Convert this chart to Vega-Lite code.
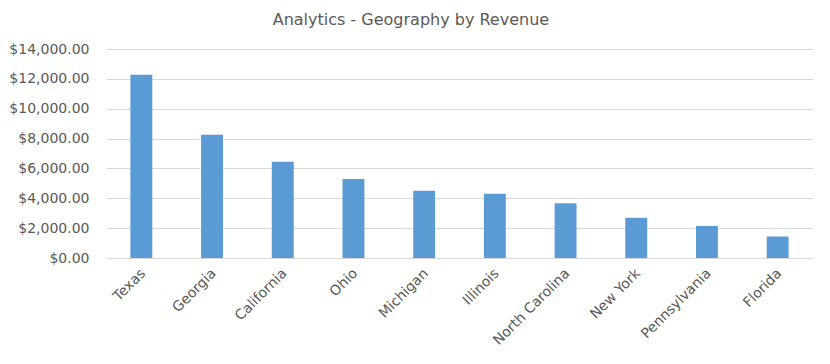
{
  "$schema": "https://vega.github.io/schema/vega-lite/v6.json",
  "autosize": {"type": "none"},
  "width": 707,
  "height": 209,
  "padding": {"left": 106, "top": 49, "right": 17, "bottom": 106},
  "background": "white",
  "title": {
    "text": "Analytics - Geography by Revenue",
    "font": "DejaVu Sans",
    "fontSize": 16,
    "fontWeight": "normal",
    "color": "#595959",
    "anchor": "middle",
    "frame": "bounds",
    "offset": 14
  },
  "data": {
    "values": [
      {"state": "Texas", "revenue": 12280},
      {"state": "Georgia", "revenue": 8250},
      {"state": "California", "revenue": 6440},
      {"state": "Ohio", "revenue": 5300},
      {"state": "Michigan", "revenue": 4510},
      {"state": "Illinois", "revenue": 4310},
      {"state": "North Carolina", "revenue": 3660},
      {"state": "New York", "revenue": 2690},
      {"state": "Pennsylvania", "revenue": 2150},
      {"state": "Florida", "revenue": 1440}
    ]
  },
  "mark": {"type": "bar", "color": "#5b9bd5"},
  "encoding": {
    "x": {
      "field": "state",
      "type": "nominal",
      "sort": null,
      "title": null,
      "scale": {"paddingInner": 0.69, "paddingOuter": 0.345},
      "axis": {
        "labelAngle": -45,
        "labelFont": "DejaVu Sans",
        "labelFontSize": 14,
        "labelColor": "#595959",
        "ticks": false,
        "labelPadding": 8,
        "labelOffset": -3,
        "domainColor": "#d9d9d9",
        "domainWidth": 1
      }
    },
    "y": {
      "field": "revenue",
      "type": "quantitative",
      "title": null,
      "scale": {"domain": [0, 14000]},
      "axis": {
        "values": [0, 2000, 4000, 6000, 8000, 10000, 12000, 14000],
        "format": "$,.2f",
        "labelFont": "DejaVu Sans",
        "labelFontSize": 14,
        "labelColor": "#595959",
        "ticks": false,
        "domain": false,
        "labelPadding": 17,
        "gridColor": "#d9d9d9",
        "gridWidth": 1
      }
    }
  },
  "config": {"view": {"stroke": null}}
}
